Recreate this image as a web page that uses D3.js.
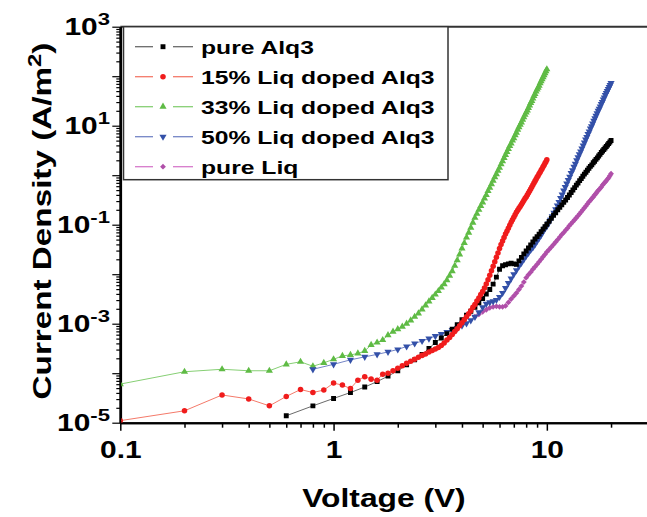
<!DOCTYPE html>
<html><head><meta charset="utf-8">
<script src="https://cdn.jsdelivr.net/npm/d3@7"></script>
<style>body{margin:0;background:#fff}svg{display:block}</style>
</head><body>
<svg id="chart" width="647" height="517"></svg>
<script>
// ---------- data ----------
const seriesNames = ["pure Alq3", "15% Liq doped Alq3", "33% Liq doped Alq3", "50% Liq doped Alq3", "pure Liq"];

const alq3V = [0.6,0.8,1.0,1.2,1.4,1.6,1.8,2.0,2.2,2.4,2.6,2.8,3.0,3.2,3.4,3.6,3.8,4.0,4.2,4.4,4.6,4.8,5.0,5.2,5.4,5.6,5.8,6.0,6.2,6.4,6.6,6.8,7.0,7.2,7.4,7.6,7.8,8.0,8.2,8.4,8.6,8.8,9.0,9.2,9.4,9.6,9.8,10.0,
  10.25,10.5,10.75,11.0,11.25,11.5,11.75,12.0,12.25,12.5,12.75,13.0,13.25,13.5,13.75,14.0,14.25,14.5,14.75,15.0,15.25,15.5,15.75,16.0,16.25,16.5,16.75,17.0,17.25,17.5,17.75,18.0,18.25,18.5,18.75,19.0,19.25,19.5,19.75,20.0];
const alq3J = [1.38e-5,2.19e-5,3.09e-5,4.07e-5,5.25e-5,6.76e-5,8.71e-5,1.12e-4,1.48e-4,1.86e-4,2.40e-4,3.16e-4,4.17e-4,5.13e-4,6.31e-4,7.76e-4,9.55e-4,1.20e-3,1.48e-3,1.78e-3,2.14e-3,2.63e-3,3.24e-3,3.98e-3,4.90e-3,6.31e-3,8.71e-3,1.26e-2,1.48e-2,1.55e-2,1.62e-2,1.66e-2,1.62e-2,1.58e-2,1.86e-2,2.19e-2,2.57e-2,2.95e-2,3.39e-2,3.89e-2,4.47e-2,5.13e-2,5.75e-2,6.46e-2,7.24e-2,8.13e-2,9.12e-2,0.102,
  0.117,0.135,0.155,0.174,0.200,0.224,0.251,0.282,0.316,0.355,0.398,0.447,0.501,0.562,0.631,0.692,0.776,0.851,0.955,1.05,1.15,1.26,1.38,1.51,1.62,1.78,1.91,2.09,2.24,2.45,2.63,2.88,3.09,3.31,3.55,3.80,4.07,4.37,4.68,5.01];

const liq15V = [0.1,0.2,0.3,0.4,0.5,0.6,0.7,0.8,0.9,1.0,1.1,1.2,1.3,1.4,1.5,1.6,1.7,1.8,1.9,2.0,
  2.1,2.2,2.3,2.4,2.5,2.6,2.7,2.8,2.9,3.0,3.1,3.2,3.3,3.4,3.5,3.6,3.7,3.8,3.9,4.0,
  4.1,4.2,4.3,4.4,4.5,4.6,4.7,4.8,4.9,5.0,5.1,5.2,5.3,5.4,5.5,5.6,5.7,5.8,5.9,6.0,
  6.1,6.2,6.3,6.4,6.5,6.6,6.7,6.8,6.9,7.0,7.1,7.2,7.3,7.4,7.5,7.6,7.7,7.8,7.9,8.0,
  8.1,8.2,8.3,8.4,8.5,8.6,8.7,8.8,8.9,9.0,9.1,9.2,9.3,9.4,9.5,9.6,9.7,9.8,9.9,10.0];
const liq15J = [1.10e-5,1.74e-5,3.63e-5,3.02e-5,2.19e-5,3.39e-5,4.68e-5,4.07e-5,4.57e-5,6.31e-5,5.75e-5,4.90e-5,7.24e-5,8.51e-5,7.59e-5,7.24e-5,9.55e-5,1.00e-4,1.12e-4,1.26e-4,
  1.41e-4,1.58e-4,1.74e-4,1.91e-4,2.09e-4,2.29e-4,2.45e-4,2.69e-4,2.88e-4,3.09e-4,3.31e-4,3.63e-4,4.07e-4,4.68e-4,5.25e-4,6.03e-4,6.92e-4,7.94e-4,9.12e-4,1.05e-3,
  1.20e-3,1.38e-3,1.58e-3,1.82e-3,2.14e-3,2.45e-3,2.88e-3,3.31e-3,3.89e-3,4.47e-3,5.25e-3,6.31e-3,7.76e-3,9.55e-3,1.17e-2,1.45e-2,1.78e-2,2.19e-2,2.69e-2,3.31e-2,
  3.98e-2,4.68e-2,5.50e-2,6.46e-2,7.41e-2,8.51e-2,9.77e-2,0.112,0.126,0.141,0.158,0.178,0.195,0.214,0.234,0.257,0.282,0.309,0.339,0.363,
  0.398,0.437,0.479,0.525,0.575,0.631,0.692,0.759,0.832,0.912,0.977,1.07,1.15,1.26,1.35,1.48,1.58,1.74,1.86,2.04];

const liq33V = [0.1,0.2,0.3,0.4,0.5,0.6,0.7,0.8,0.9,1.0,1.1,1.2,1.3,1.4,1.5,1.6,1.7,1.8,1.9,2.0,
  2.1,2.2,2.3,2.4,2.5,2.6,2.7,2.8,2.9,3.0,3.1,3.2,3.3,3.4,3.5,3.6,3.7,3.8,3.9,4.0,
  4.1,4.2,4.3,4.4,4.5,4.6,4.7,4.8,4.9,5.0,5.1,5.2,5.3,5.4,5.5,5.6,5.7,5.8,5.9,6.0,
  6.1,6.2,6.3,6.4,6.5,6.6,6.7,6.8,6.9,7.0,7.1,7.2,7.3,7.4,7.5,7.6,7.7,7.8,7.9,8.0,
  8.1,8.2,8.3,8.4,8.5,8.6,8.7,8.8,8.9,9.0,9.1,9.2,9.3,9.4,9.5,9.6,9.7,9.8,9.9,10.0];
const liq33J = [6.03e-5,1.07e-4,1.20e-4,1.12e-4,1.12e-4,1.51e-4,1.70e-4,1.38e-4,1.62e-4,1.91e-4,2.24e-4,2.34e-4,2.51e-4,2.82e-4,3.72e-4,4.17e-4,4.68e-4,5.89e-4,6.92e-4,7.76e-4,
  8.71e-4,1.00e-3,1.17e-3,1.38e-3,1.62e-3,1.95e-3,2.34e-3,2.82e-3,3.31e-3,3.89e-3,4.57e-3,5.37e-3,6.31e-3,7.59e-3,9.33e-3,1.15e-2,1.48e-2,1.91e-2,2.51e-2,3.31e-2,
  4.27e-2,5.50e-2,6.92e-2,8.71e-2,0.110,0.138,0.166,0.200,0.240,0.282,0.339,0.398,0.479,0.562,0.661,0.776,0.912,1.05,1.23,1.41,
  1.66,1.91,2.24,2.57,2.95,3.39,3.89,4.37,5.01,5.62,6.46,7.24,8.32,9.33,10.5,11.7,13.2,14.8,16.6,18.6,
  20.4,22.9,25.7,28.8,31.6,35.5,39.8,43.7,49.0,53.7,58.9,64.6,72.4,79.4,87.1,95.5,105,115,126,138];

const liq50V = [0.8,1.0,1.2,1.4,1.6,1.8,2.0,2.2,2.4,2.6,2.8,3.0,3.2,3.4,3.6,3.8,4.0,4.2,4.4,4.6,4.8,5.0,5.2,5.4,5.6,5.8,6.0,6.2,6.4,6.6,6.8,7.0,7.2,7.4,7.6,7.8,8.0,8.2,8.4,8.6,8.8,9.0,9.2,9.4,9.6,9.8,10.0,
  10.2,10.4,10.6,10.8,11.0,11.2,11.4,11.6,11.8,12.0,12.2,12.4,12.6,12.8,13.0,13.2,13.4,13.6,13.8,14.0,14.2,14.4,14.6,14.8,15.0,
  15.2,15.4,15.6,15.8,16.0,16.2,16.4,16.6,16.8,17.0,17.2,17.4,17.6,17.8,18.0,18.2,18.4,18.6,18.8,19.0,19.2,19.4,19.6,19.8,20.0];
const liq50J = [1.20e-4,1.51e-4,1.86e-4,2.14e-4,2.40e-4,2.69e-4,3.02e-4,3.47e-4,3.98e-4,4.47e-4,5.01e-4,5.62e-4,6.17e-4,6.76e-4,7.41e-4,8.13e-4,9.12e-4,1.02e-3,1.17e-3,1.38e-3,1.70e-3,2.14e-3,2.51e-3,2.69e-3,2.82e-3,3.02e-3,3.47e-3,4.17e-3,5.25e-3,6.61e-3,8.13e-3,1.00e-2,1.20e-2,1.45e-2,1.70e-2,2.00e-2,2.34e-2,2.69e-2,3.09e-2,3.47e-2,3.98e-2,4.68e-2,5.37e-2,6.17e-2,7.24e-2,8.32e-2,9.33e-2,
  0.107,0.126,0.148,0.174,0.204,0.245,0.288,0.347,0.407,0.490,0.575,0.676,0.794,0.933,1.10,1.26,1.48,1.70,2.00,2.29,2.63,3.02,3.47,3.98,4.57,
  5.25,5.89,6.76,7.59,8.71,9.77,11.0,12.6,14.1,15.8,17.8,20.0,21.9,24.5,27.5,30.2,33.9,37.2,41.7,45.7,50.1,55.0,60.3,66.1,72.4];

const pureLiqV = [4.6,4.8,5.0,5.2,5.4,5.6,5.8,6.0,6.2,6.4,6.6,6.8,7.0,7.2,7.4,7.6,7.8,8.0,8.2,8.4,8.6,8.8,9.0,9.2,9.4,9.6,9.8,10.0,
  10.25,10.5,10.75,11.0,11.25,11.5,11.75,12.0,12.25,12.5,12.75,13.0,13.25,13.5,13.75,14.0,14.25,14.5,14.75,15.0,15.25,15.5,15.75,16.0,16.25,16.5,16.75,17.0,17.25,17.5,17.75,18.0,18.25,18.5,18.75,19.0,19.25,19.5,19.75,20.0];
const pureLiqJ = [1.38e-3,1.55e-3,1.74e-3,1.91e-3,2.09e-3,2.19e-3,2.24e-3,2.19e-3,2.19e-3,2.29e-3,2.69e-3,3.16e-3,3.63e-3,4.17e-3,4.90e-3,5.75e-3,6.92e-3,8.51e-3,9.77e-3,1.10e-2,1.26e-2,1.41e-2,1.58e-2,1.78e-2,2.00e-2,2.24e-2,2.51e-2,2.82e-2,
  3.16e-2,3.55e-2,3.98e-2,4.47e-2,5.01e-2,5.62e-2,6.31e-2,6.92e-2,7.76e-2,8.51e-2,9.55e-2,0.105,0.115,0.126,0.138,0.151,0.166,0.182,0.200,0.219,0.240,0.263,0.288,0.309,0.339,0.363,0.398,0.427,0.468,0.501,0.537,0.575,0.631,0.676,0.724,0.776,0.832,0.891,0.977,1.07];

const xTickValues = [0.1, 1, 10];
const xTickLabels = ["0.1", "1", "10"];
const yLabelExponents = ["3", "1", "-1", "-3", "-5"];
const xTitle = "Voltage (V)";
const yTitle = "Current Density (A/m";

// ---------- styling / layout ----------
const FONT = "'Liberation Sans', Arial, Helvetica, sans-serif";
const markColors = ["#000000", "#f01c1c", "#5fbb45", "#3350a8", "#b04fa9"];
const lineColors = ["#6a6a6a", "#f47a6a", "#86cf74", "#7485c6", "#d67acb"];
const symbols = [
  {type: d3.symbolSquare, size: 24, rot: 0},
  {type: d3.symbolCircle, size: 24, rot: 0},
  {type: d3.symbolTriangle, size: 22, rot: 0},
  {type: d3.symbolTriangle, size: 22, rot: 180},
  {type: d3.symbolSquare, size: 17, rot: 45}
];
const series = [
  {V: alq3V, J: alq3J},
  {V: liq15V, J: liq15J},
  {V: liq33V, J: liq33J},
  {V: liq50V, J: liq50J},
  {V: pureLiqV, J: pureLiqJ}
].map((s, i) => ({i, name: seriesNames[i], pts: s.V.map((v, k) => [v, s.J[k]])}));

const L = 120.3, R = 648.6, T = 26.7, B = 422.7;
const svg = d3.select("#chart");
const x = d3.scaleLog().domain([0.1, 30]).range([L, R]);
const y = d3.scaleLog().domain([1e-5, 1e3]).range([B, T]);

svg.append("defs").append("clipPath").attr("id", "plotclip")
  .append("rect").attr("x", L + 1).attr("y", T).attr("width", R - L).attr("height", B - T);

// frame top line
svg.append("line").attr("x1", L).attr("x2", 647).attr("y1", T).attr("y2", T)
  .attr("stroke", "#333").attr("stroke-width", 2);

// axes: minor + major ticks
const isPow10 = v => Math.abs(Math.log10(v) - Math.round(Math.log10(v))) < 1e-9;
const xMinor = x.ticks().filter(v => !isPow10(v));
const yMinor = y.ticks().filter(v => !isPow10(v));
const yMajor = y.ticks().filter(isPow10);

const gx = svg.append("g").attr("transform", `translate(0,${B})`);
gx.append("g").call(d3.axisBottom(x).tickValues(xMinor).tickSize(5).tickSizeOuter(0).tickFormat(""));
gx.append("g").call(d3.axisBottom(x).tickValues(xTickValues).tickSize(8).tickSizeOuter(0)
  .tickFormat((d, i) => xTickLabels[i]));
gx.selectAll("path.domain").attr("stroke", "#000").attr("stroke-width", 2);
gx.selectAll(".tick line").attr("stroke", "#000").attr("stroke-width", 1.5);
gx.selectAll(".tick text").attr("y", 35.5).attr("dy", 0)
  .attr("transform", "scale(1.3,1)")
  .style("font-family", FONT).style("font-weight", "bold").style("font-size", "23px").attr("fill", "#000");

const gy = svg.append("g").attr("transform", `translate(${L},0)`);
gy.append("g").call(d3.axisLeft(y).tickValues(yMinor).tickSize(4).tickSizeOuter(0).tickFormat(""));
gy.append("g").call(d3.axisLeft(y).tickValues(yMajor).tickSize(8).tickSizeOuter(0).tickFormat(""));
gy.selectAll("path.domain").attr("stroke", "#000").attr("stroke-width", 2.5);
gy.selectAll(".tick line").attr("stroke", "#000").attr("stroke-width", 1.2);

// y tick labels 10^n
yLabelExponents.forEach(e => {
  const ty = y(Math.pow(10, +e));
  const t = svg.append("text")
    .attr("transform", `translate(110,${ty + 8}) scale(1.3,1)`)
    .attr("text-anchor", "end")
    .style("font-family", FONT).style("font-weight", "bold").style("font-size", "23px");
  t.append("tspan").text("10");
  t.append("tspan").attr("dy", -10).style("font-size", "17px").text(e);
});

// axis titles
svg.append("text").attr("transform", "translate(384,507) scale(1.27,1)")
  .attr("text-anchor", "middle")
  .style("font-family", FONT).style("font-weight", "bold").style("font-size", "25px")
  .text(xTitle);
const yt = svg.append("text").attr("transform", "translate(51,221) rotate(-90) scale(1.33,1)")
  .attr("text-anchor", "middle")
  .style("font-family", FONT).style("font-weight", "bold").style("font-size", "25px");
yt.append("tspan").text(yTitle);
yt.append("tspan").attr("dy", -10).style("font-size", "18px").text("2");
yt.append("tspan").attr("dy", 10).text(")");

// data
const plot = svg.append("g").attr("clip-path", "url(#plotclip)");
const line = d3.line().x(d => x(d[0])).y(d => y(d[1]));
const drawOrder = [2, 4, 3, 0, 1];
drawOrder.forEach(i => {
  const s = series[i];
  const g = plot.append("g");
  g.append("path").attr("d", line(s.pts)).attr("fill", "none")
    .attr("stroke", lineColors[i]).attr("stroke-width", 1);
  const sym = d3.symbol().type(symbols[i].type).size(symbols[i].size);
  g.selectAll("path.m").data(s.pts).join("path").attr("class", "m")
    .attr("d", sym)
    .attr("transform", d => `translate(${x(d[0])},${y(d[1])}) rotate(${symbols[i].rot})`)
    .attr("fill", markColors[i]);
});

// legend
const lg = svg.append("g");
lg.append("rect").attr("x", 123.5).attr("y", T).attr("width", 324.5).attr("height", 153)
  .attr("fill", "#fff").attr("stroke", "#333").attr("stroke-width", 1.5);
series.forEach((s, i) => {
  const cy = 46.7 + i * 30;
  lg.append("line").attr("x1", 135).attr("x2", 153).attr("y1", cy).attr("y2", cy)
    .attr("stroke", lineColors[i]).attr("stroke-width", 1.3);
  lg.append("line").attr("x1", 173).attr("x2", 193).attr("y1", cy).attr("y2", cy)
    .attr("stroke", lineColors[i]).attr("stroke-width", 1.3);
  lg.append("path").attr("d", d3.symbol().type(symbols[i].type).size(symbols[i].size)())
    .attr("transform", `translate(163,${cy}) rotate(${symbols[i].rot})`)
    .attr("fill", markColors[i]);
  lg.append("text").attr("transform", `translate(201,${cy + 7.5}) scale(1.3,1)`)
    .style("font-family", FONT).style("font-weight", "bold").style("font-size", "19px")
    .text(s.name);
});
</script>
</body></html>
